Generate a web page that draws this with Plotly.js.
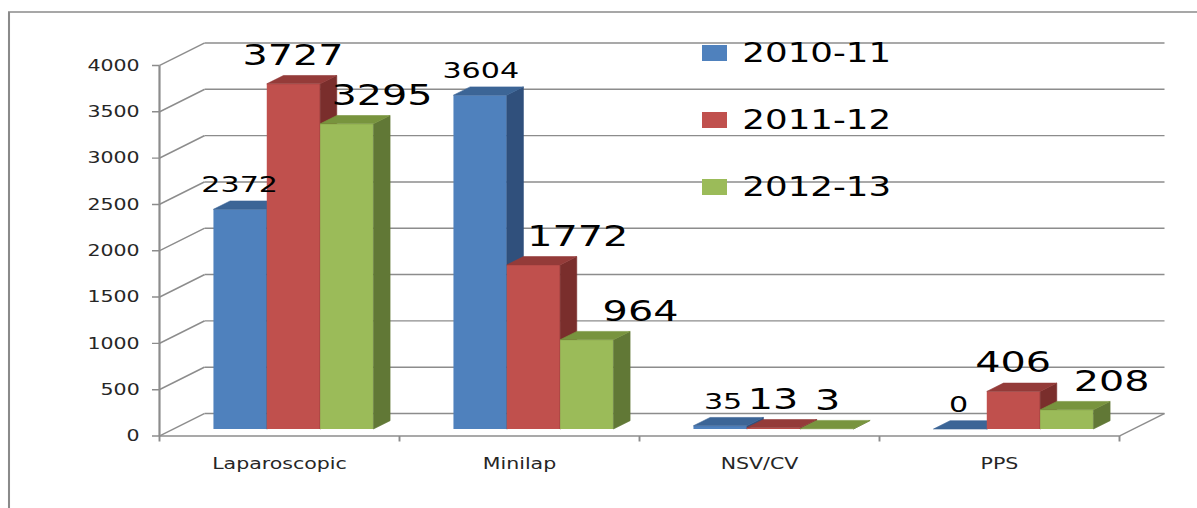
<!DOCTYPE html>
<html><head><meta charset="utf-8">
<script src="https://cdn.plot.ly/plotly-3.0.1.min.js"></script>
<style>
html,body{margin:0;padding:0;overflow:hidden;background:#fff;width:1197px;height:508px}
#chart{width:874px;height:508px;transform-origin:0 0;}
</style></head><body><div id="chart"></div>
<script>
// ---------- data ----------
const categories = ['Laparoscopic', 'Minilap', 'NSV/CV', 'PPS'];
const seriesNames = ['2010-11', '2011-12', '2012-13'];
const v2010_11 = [2372, 3604, 35, 0];
const v2011_12 = [3727, 1772, 13, 406];
const v2012_13 = [3295, 964, 3, 208];
const yTickValues = [0, 500, 1000, 1500, 2000, 2500, 3000, 3500, 4000];

// ---------- styles ----------
const seriesValues = [v2010_11, v2011_12, v2012_13];
const frontColors = ['#4F81BD', '#C0504D', '#9BBB59'];
const topColors = ['#3C6596', '#943B39', '#78943E'];
const sideColors = ['#30507C', '#7A2E2C', '#617836'];
const labelSizes = [22, 29, 29];
const labelShiftPx = [[0, 0, 3, -1], [0, 45, 0, 0], [36, 54, 0, 44]]; // final px
const FONT = 'DejaVu Sans, Verdana, sans-serif';
const GRID = '#8c8c8c';

// stretched rendering (the reference is horizontally stretched)
const W = 874, H = 508, S = 1197 / W;
document.getElementById('chart').style.transform = 'scaleX(' + S + ')';

// geometry (final px)
const X0 = 159.5, CW = 240, DX = 45;
const Y0 = 436, PPU = 370.5 / 4000, DY = 22.5;
const F0 = 0.31, FD = 0.37, GW = 2 / 3, BW = GW / 3;

const padL = 9, padR = 3, padT = 3, padB = 9;
const L = Math.round(X0 / S - padL);
const Rr = Math.ceil((X0 + 4 * CW + DX) / S + padR);
const Wp = Rr - L;
const T = Math.round(Y0 - 4000 * PPU - DY - padT);
const Bt = Math.round(Y0 + padB);
const Hp = Bt - T;
const ux = S / CW;
const xmin = -0.5 - (X0 / S - L) * ux, xmax = xmin + Wp * ux;
const ymin = -(Bt - Y0) / PPU, ymax = ymin + Hp / PPU;
const dxu = DX / CW, dyu = DY / PPU;
const px2paperX = p => (p / S - L) / Wp;
const py2paperY = p => 1 - (p - T) / Hp;

const n = categories.length;
const idx = categories.map((c, j) => j);
const baseU = F0 * dyu;

const traces = [];
seriesValues.forEach((vals, i) => {
  const xa = i === 0 ? 'x' : 'x' + (i + 1);
  const ya = i === 0 ? 'y' : 'y' + (i + 1);
  traces.push({
    type: 'bar', name: seriesNames[i], x: idx.map(j => j + F0 * dxu), y: vals,
    base: baseU, width: BW, offset: -GW / 2 + i * BW,
    marker: {color: frontColors[i], line: {width: 0}},
    xaxis: xa, yaxis: ya, showlegend: false, hoverinfo: 'name+y'
  });
  const sx = [], sy = [], tx = [], ty = [];
  vals.forEach((v, j) => {
    const xl = j + F0 * dxu - GW / 2 + i * BW, xr = xl + BW;
    const b = baseU, t = v + baseU, ddx = FD * dxu, ddy = FD * dyu;
    sx.push(xr, xr + ddx, xr + ddx, xr, xr, null);
    sy.push(b, b + ddy, t + ddy, t, b, null);
    tx.push(xl, xl + ddx, xr + ddx, xr, xl, null);
    ty.push(t, t + ddy, t + ddy, t, t, null);
  });
  traces.push({type: 'scatter', mode: 'lines', x: sx, y: sy, fill: 'toself',
    fillcolor: sideColors[i], line: {width: 0.5, color: sideColors[i]},
    xaxis: xa, yaxis: ya, showlegend: false, hoverinfo: 'skip'});
  traces.push({type: 'scatter', mode: 'lines', x: tx, y: ty, fill: 'toself',
    fillcolor: topColors[i], line: {width: 0.5, color: topColors[i]},
    xaxis: xa, yaxis: ya, showlegend: false, hoverinfo: 'skip'});
});

// ---------- frame shapes ----------
const shapes = [];
const ln = (x0, y0, x1, y1, w) => shapes.push({type: 'line', xref: 'x', yref: 'y', x0, y0, x1, y1,
  layer: 'below', line: {color: GRID, width: w || 1.4}});
yTickValues.forEach(v => {
  ln(-0.5, v, -0.5 + dxu, v + dyu);
  ln(-0.5 + dxu, v + dyu, n - 0.5 + dxu, v + dyu);
  ln(-0.5 - 7.5 / CW, v, -0.5, v);
});
ln(-0.5, 0, -0.5, yTickValues[yTickValues.length - 1], 1.6);
ln(-0.5, 0, n - 0.5, 0, 1.6);
ln(n - 0.5, 0, n - 0.5 + dxu, dyu);
for (let k = 0; k <= n; k++) ln(k - 0.5, 0, k - 0.5, -5.5 / PPU, 1.4);
// outer border
shapes.push({type: 'rect', xref: 'paper', yref: 'paper', x0: px2paperX(9), y0: py2paperY(12),
  x1: px2paperX(1215), y1: py2paperY(530), line: {color: '#8a8a8a', width: 1.5}, layer: 'below'});

// ---------- annotations: data labels + legend ----------
const annotations = [];
seriesValues.forEach((vals, i) => {
  vals.forEach((v, j) => {
    annotations.push({x: j + F0 * dxu - GW / 2 + (i + 0.5) * BW, y: v + baseU, xref: 'x', yref: 'y',
      text: String(v), showarrow: false, xanchor: 'center', yanchor: 'bottom',
      xshift: labelShiftPx[i][j] / S, yshift: 10,
      font: {family: FONT, size: labelSizes[i], color: '#000'}});
  });
});
const legendRowY = [53, 120, 187];
seriesNames.forEach((nm, i) => {
  shapes.push({type: 'rect', xref: 'paper', yref: 'paper', x0: px2paperX(702), x1: px2paperX(727),
    y0: py2paperY(legendRowY[i] + 8), y1: py2paperY(legendRowY[i] - 8),
    fillcolor: frontColors[i], line: {width: 0}});
  annotations.push({x: px2paperX(739), y: py2paperY(legendRowY[i]), xref: 'paper', yref: 'paper',
    text: nm, showarrow: false, xanchor: 'left', yanchor: 'middle',
    font: {family: FONT, size: 26, color: '#000'}});
});

const axBase = {range: [xmin, xmax], fixedrange: true, automargin: false};
const layout = {
  width: W, height: H, margin: {l: L, r: W - Rr, t: T, b: H - Bt},
  paper_bgcolor: '#fff', plot_bgcolor: 'rgba(0,0,0,0)', showlegend: false,
  font: {family: FONT, color: '#262626'},
  xaxis: Object.assign({}, axBase, {tickmode: 'array', tickvals: idx, ticktext: categories,
    ticks: '', showgrid: false, zeroline: false, showline: false,
    tickfont: {family: FONT, size: 15, color: '#262626'}, ticklabelstandoff: 8}),
  yaxis: {range: [ymin, ymax], fixedrange: true, automargin: false, tickmode: 'array',
    tickvals: yTickValues, ticktext: yTickValues.map(String), ticks: '', showgrid: false,
    zeroline: false, showline: false, tickfont: {family: FONT, size: 15, color: '#262626'},
    ticklabelstandoff: 4},
  xaxis2: Object.assign({}, axBase, {overlaying: 'x', anchor: 'y2', visible: false}),
  yaxis2: {range: [ymin, ymax], overlaying: 'y', anchor: 'x2', visible: false, fixedrange: true},
  xaxis3: Object.assign({}, axBase, {overlaying: 'x', anchor: 'y3', visible: false}),
  yaxis3: {range: [ymin, ymax], overlaying: 'y', anchor: 'x3', visible: false, fixedrange: true},
  shapes, annotations
};
Plotly.newPlot('chart', traces, layout, {displayModeBar: false, staticPlot: true});
</script></body></html>
